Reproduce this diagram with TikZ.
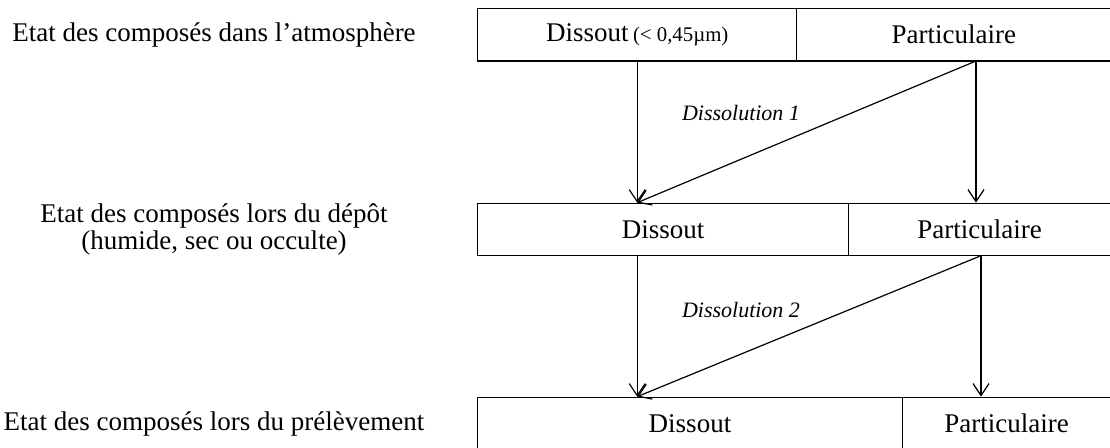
\documentclass[tikz,border=0pt]{standalone}
\usepackage{fontspec}
\setmainfont{Liberation Serif}
\usetikzlibrary{arrows.meta}

\begin{document}
\begin{tikzpicture}[x=0.5pt, y=-0.5pt,
    every node/.style={inner sep=0pt, font=\fontsize{13.5}{13}\selectfont},
    cell/.style={draw, line width=0.6pt, minimum height=26.25pt},
    arr/.style={line width=0.6pt, -{Straight Barb[length=6pt, width=8pt, line width=0.6pt]}}]
            \useasboundingbox (0,0) rectangle (1110,448);
            % labels on the left
            \node (L1) at (214,35) {Etat des composés dans l'atmosphère};
            \node[align=center, font=\fontsize{13.5}{13.5}\selectfont] (L2) at (214,229) {Etat des composés lors du dépôt\\(humide, sec ou occulte)};
            \node (L3) at (214,424) {Etat des composés lors du prélèvement};
            % rows of cells
            \node[cell, minimum width=159.5pt] (D1) at (637.2,34.7) {Dissout\,{\fontsize{10.4}{12}\selectfont(< 0,45µm)}};
            \node[cell, minimum width=157.2pt] (P1) at (953.9,34.7) {Particulaire};
            \node[cell, minimum width=185.4pt] (D2) at (663.1,229.5) {Dissout};
            \node[cell, minimum width=131.2pt] (P2) at (979.7,229.5) {Particulaire};
            \node[cell, minimum width=212.3pt] (D3) at (690,423.5) {Dissout};
            \node[cell, minimum width=104.4pt] (P3) at (1006.6,423.5) {Particulaire};
            \coordinate (s1) at (976,61);
            \coordinate (s2) at (981,255.7);
            % Dissolution 1
            \draw[arr] (D1.south) -- (D1.south |- D2.north);
            \draw[arr] (s1) -- (s1 |- D2.north);
            \draw[arr] (s1) -- (D1.south |- D2.north);
            \node[font=\fontsize{11}{13}\itshape] (T1) at (741,113) {Dissolution 1};
            % Dissolution 2
            \draw[arr] (D1.south |- D2.south) -- (D1.south |- D3.north);
            \draw[arr] (s2) -- (s2 |- D3.north);
            \draw[arr] (s2) -- (D1.south |- D3.north);
            \node[font=\fontsize{11}{13}\itshape] (T2) at (741,310) {Dissolution 2};
        \end{tikzpicture}
\end{document}
